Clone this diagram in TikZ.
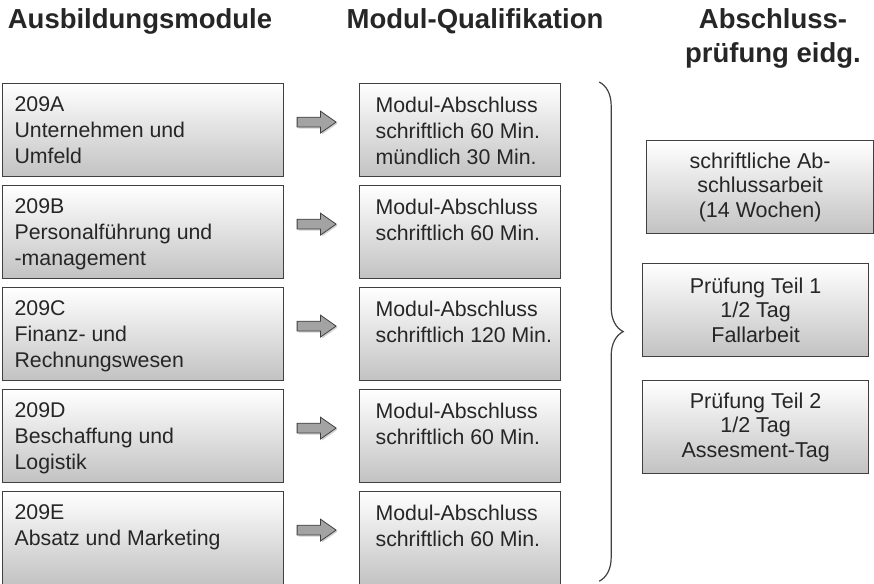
\documentclass[tikz,border=0pt]{standalone}
\usepackage{fontspec}
\setmainfont{Liberation Sans}
\usetikzlibrary{calc,shapes.arrows,shadows,decorations.pathreplacing}

\definecolor{rahmen}{HTML}{404040}
\definecolor{schrift}{HTML}{262626}
\definecolor{verlauf}{HTML}{C2C2C2}
\definecolor{pfeilgrau}{HTML}{A3A3A3}

\begin{document}
\begin{tikzpicture}[x=1pt,y=-1pt,
    titel/.style={anchor=north,inner sep=0pt,align=center,text=schrift,
      font=\fontsize{27.5}{34}\selectfont\bfseries},
    kasten/.style={draw=rahmen,line width=1.2pt,top color=white,bottom color=verlauf,
      text=schrift,font=\fontsize{21.3}{26}\selectfont,inner ysep=13pt,
      minimum height=93pt,anchor=north west},
    pfeilform/.style={single arrow,draw=rahmen,fill=pfeilgrau,line width=0.8pt,
      inner sep=4.5pt,single arrow head extend=6pt,single arrow tip angle=70,
      minimum height=39pt,
      drop shadow={shadow xshift=1.5pt,shadow yshift=-1.5pt,opacity=0.35}}]
  \clip (0,0) rectangle (874,583);
  % Spaltenkoepfe
  \node[titel] (kopfmodul) at (140,8) {Ausbildungsmodule};
  \node[titel] (kopfquali) at (475,8) {Modul-Qualifikation};
  \node[titel] (kopfpruef) at (773,8) {Abschluss-\\prüfung eidg.};
  % Module und Qualifikationen
  \foreach \i/\m/\q [count=\n from 0] in {%
      A/{209A\\Unternehmen und\\Umfeld}/{Modul-Abschluss\\schriftlich 60 Min.\\mündlich 30 Min.},
      B/{209B\\Personalführung und\\-management}/{Modul-Abschluss\\schriftlich 60 Min.},
      C/{209C\\Finanz- und\\Rechnungswesen}/{Modul-Abschluss\\schriftlich 120 Min.},
      D/{209D\\Beschaffung und\\Logistik}/{Modul-Abschluss\\schriftlich 60 Min.},
      E/{209E\\Absatz und Marketing}/{Modul-Abschluss\\schriftlich 60 Min.}} {%
    \node[kasten,inner xsep=12pt] (mod\i) at (2,83+102*\n)
      {\parbox[t][67pt][t]{257pt}{\raggedright\m}};
    \node[kasten,inner xsep=1pt] (qual\i) at (359,83+102*\n)
      {\parbox[t][67pt][t]{199pt}{\raggedright\leftskip=15pt\q}};
    \node[pfeilform,xshift=-8.5pt,yshift=8pt] (pfeil\i)
      at ($(mod\i.east)!0.5!(qual\i.west)$) {};
  }
  % Klammer
  \coordinate (klammeroben) at ($(qualA.north east)+(38,-1)$);
  \coordinate (klammerunten) at ($(qualE.south east)+(38,-4)$);
  \draw[rahmen,line width=1.2pt,decorate,decoration={brace,amplitude=24pt}]
    (klammeroben) -- (klammerunten);
  % Abschlusspruefung
  \node[kasten,inner ysep=6pt,minimum width=227pt,align=center,
    font=\fontsize{21.5}{24.5}\selectfont] (pruefarbeit) at (646,140)
    {schriftliche Ab-\\schlussarbeit\\(14 Wochen)};
  \node[kasten,inner ysep=6pt,minimum width=226pt,align=center,
    font=\fontsize{21.5}{24.5}\selectfont] (pruefteil1) at (642,263)
    {Prüfung Teil 1\\1/2 Tag\\Fallarbeit};
  \node[kasten,inner ysep=6pt,minimum width=226pt,align=center,
    font=\fontsize{21.5}{24.5}\selectfont] (pruefteil2) at (642,380)
    {Prüfung Teil 2\\1/2 Tag\\Assesment-Tag};
\end{tikzpicture}
\end{document}
